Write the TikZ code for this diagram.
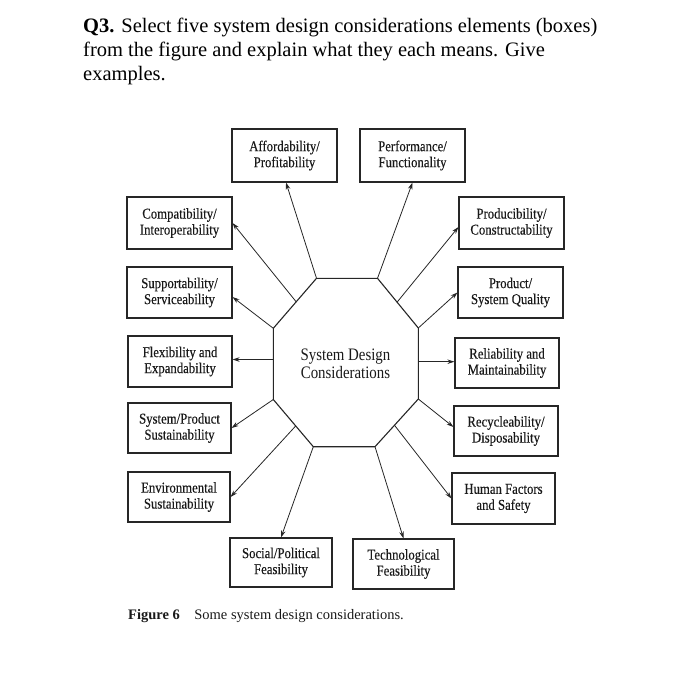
\documentclass[tikz,border=0pt]{standalone}
\usepackage{fontspec}
\setmainfont{Liberation Serif}
\newfontfamily\boxfont[FakeStretch=0.85,FakeBold=0.3]{Liberation Serif}
\newfontfamily\ctrfont[FakeStretch=0.85]{Liberation Serif}
\usetikzlibrary{arrows.meta,calc}
\begin{document}
\begin{tikzpicture}[x=1pt,y=-1pt,
  box/.style={draw=black!85, line width=1.1pt, inner sep=0pt, align=center,
    font=\boxfont\fontsize{15}{16}\selectfont, text=black!90},
  conn/.style={draw=black!85, line width=0.8pt, -{Stealth[length=7pt,width=4.5pt]}},
  hdr/.style={anchor=base west, inner sep=0pt, font=\fontsize{20.5}{23}\selectfont}]
\useasboundingbox (0,0) rectangle (700,677);
% header
\node[hdr] (h1) at (83,33) {\textbf{Q3.} Select five system design considerations elements (boxes)};
\node[hdr] (h2) at (83,56.5) {from the figure and explain what they each means. Give};
\node[hdr] (h3) at (83,80) {examples.};
% boxes
\node[box, minimum width=105pt, minimum height=53pt] (aff) at (284.5,155.5) {Affordability/\\Profitability};
\node[box, minimum width=105pt, minimum height=53pt] (perf) at (412.5,155.5) {Performance/\\Functionality};
\node[box, minimum width=105pt, minimum height=52pt] (comp) at (179.5,223) {Compatibility/\\Interoperability};
\node[box, minimum width=105pt, minimum height=52pt] (prod) at (511.5,223) {Producibility/\\Constructability};
\node[box, minimum width=105pt, minimum height=51pt] (supp) at (179.5,292.5) {Supportability/\\Serviceability};
\node[box, minimum width=105pt, minimum height=51pt] (qual) at (510.5,292.5) {Product/\\System Quality};
\node[box, minimum width=104pt, minimum height=51pt] (flex) at (180,361.5) {Flexibility and\\Expandability};
\node[box, minimum width=104pt, minimum height=50pt] (rel) at (507,363) {Reliability and\\Maintainability};
\node[box, minimum width=103pt, minimum height=50pt] (sust) at (179.5,428) {System/Product\\Sustainability};
\node[box, minimum width=104pt, minimum height=50pt] (recy) at (506,431) {Recycleability/\\Disposability};
\node[box, minimum width=102pt, minimum height=50pt] (env) at (179,497) {Environmental\\Sustainability};
\node[box, minimum width=103pt, minimum height=51pt] (hum) at (503.5,498.5) {Human Factors\\and Safety};
\node[box, minimum width=102pt, minimum height=49pt] (soc) at (281,562.5) {Social/Political\\Feasibility};
\node[box, minimum width=101pt, minimum height=50pt] (tech) at (403.5,564) {Technological\\Feasibility};
% octagon
\coordinate (o1) at (316.5,278.3);
\coordinate (o2) at (377.5,278.3);
\coordinate (o3) at (418.3,328);
\coordinate (o4) at (418.3,399);
\coordinate (o5) at (375,446.7);
\coordinate (o6) at (313.3,446.7);
\coordinate (o7) at (273.3,399.5);
\coordinate (o8) at (273.3,328.3);
\draw[draw=black!85, line width=1.1pt] (o1) -- (o2) -- (o3) -- (o4) -- (o5) -- (o6) -- (o7) -- (o8) -- cycle;
\node[align=center, inner sep=0pt, text=black!90, font=\ctrfont\fontsize{17.5}{18.3}\selectfont] (ctr) at (345.5,364) {System Design\\Considerations};
% start points on the octagon
\coordinate (sc) at ($(o8)!0.53!(o1)$);
\coordinate (sp) at ($(o2)!0.48!(o3)$);
\coordinate (se) at ($(o7)!0.56!(o6)$);
\coordinate (sh) at ($(o4)!0.55!(o5)$);
\coordinate (sf) at (273.3,359.5);
\coordinate (sr) at (418.3,361.7);
% connectors
\draw[conn] (o1) -- ($(aff.south)+(1.5,0)$);
\draw[conn] (o2) -- (perf.south);
\draw[conn] (sc) -- (comp.east);
\draw[conn] (sp) -- ($(prod.west)+(0,4)$);
\draw[conn] (o8) -- ($(supp.east)+(0,4.5)$);
\draw[conn] (o3) -- (qual.west);
\draw[conn] (sf) -- (sf -| flex.east);
\draw[conn] (sr) -- (sr -| rel.west);
\draw[conn] (o7) -- (sust.east);
\draw[conn] (o4) -- ($(recy.west)+(0,-4)$);
\draw[conn] (se) -- (env.east);
\draw[conn] (sh) -- (hum.west);
\draw[conn] (o6) -- (soc.north);
\draw[conn] (o5) -- (tech.north);
% caption
\node[anchor=base west, inner sep=0pt, text=black!90, font=\fontsize{14.5}{16}\selectfont] (cap) at (128,619) {\textbf{Figure 6}\quad Some system design considerations.};
\end{tikzpicture}
\end{document}
